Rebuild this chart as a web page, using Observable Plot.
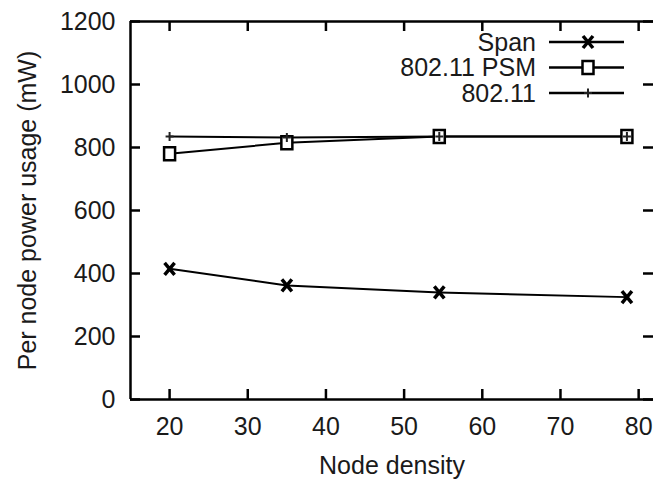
<!DOCTYPE html>
<html>
<head>
<meta charset="utf-8">
<script src="https://cdn.jsdelivr.net/npm/d3@7"></script>
<script src="https://cdn.jsdelivr.net/npm/@observablehq/plot@0.6"></script>
<style>
  html, body { margin: 0; padding: 0; background: #fff; }
  #chart { width: 653px; height: 479px; overflow: hidden; }
</style>
</head>
<body>
<div id="chart"></div>
<script>
// ---- data ----
const nodeDensity = [20, 35, 54.5, 78.5];
const spanPower   = [415, 362, 340, 325];
const psmPower    = [780, 815, 835, 835];
const dot11Power  = [835, 832, 835, 835];
const seriesNames = ["Span", "802.11 PSM", "802.11"];
const xTicks = [20, 30, 40, 50, 60, 70, 80];
const yTicks = [0, 200, 400, 600, 800, 1000, 1200];
const xDomain = [15, 81.9];
const yDomain = [0, 1200];
const xTitle = "Node density";
const yTitle = "Per node power usage (mW)";

// ---- table for Plot ----
const rows = [];
[spanPower, psmPower, dot11Power].forEach((vals, s) => {
  vals.forEach((v, i) => rows.push({series: seriesNames[s], x: nodeDensity[i], y: v}));
});

// ---- custom symbols ----
const symX = {draw(ctx) { const w = 5, h = 6; ctx.moveTo(-w, -h); ctx.lineTo(w, h); ctx.moveTo(w, -h); ctx.lineTo(-w, h); }};
const symBox = {draw(ctx) { const w = 5.5, h = 6.5; ctx.moveTo(-w, -h); ctx.lineTo(w, -h); ctx.lineTo(w, h); ctx.lineTo(-w, h); ctx.closePath(); }};
const symPlus = {draw(ctx) { ctx.moveTo(-4, 0); ctx.lineTo(4, 0); ctx.moveTo(0, -4.5); ctx.lineTo(0, 4.5); }};
const styles = {
  "Span":       {symbol: symX,    stroke: "#000", strokeWidth: 3.5, fill: "none"},
  "802.11 PSM": {symbol: symBox,  stroke: "#000", strokeWidth: 2.5, fill: "#fff"},
  "802.11":     {symbol: symPlus, stroke: "#222", strokeWidth: 2,   fill: "none"}
};

const W = 653, H = 479;
const mL = 130, mT = 21, mB = 80, mR = 0;
const frameW = W - mL - mR, frameH = H - mT - mB;
const tickLen = 10;
const font = "'Liberation Sans', Arial, Helvetica, sans-serif";
const txt = "#1a1a1a";

const marks = [
  // frame (left, bottom, top)
  Plot.ruleX([xDomain[0]], {stroke: "#000", strokeWidth: 2.5}),
  Plot.ruleY(yDomain, {stroke: "#000", strokeWidth: 2.5}),
  // inward ticks
  Plot.ruleY(yTicks, {insetRight: frameW - tickLen, stroke: "#000", strokeWidth: 2.5}),
  Plot.ruleY(yTicks, {insetLeft: frameW - tickLen, stroke: "#000", strokeWidth: 2.5}),
  Plot.ruleX(xTicks, {insetTop: frameH - tickLen, stroke: "#000", strokeWidth: 2.5}),
  Plot.ruleX(xTicks, {insetBottom: frameH - tickLen, stroke: "#000", strokeWidth: 2.5}),
  // tick labels
  Plot.axisY({anchor: "left", ticks: yTicks, tickFormat: d => String(d), tickSize: 0, tickPadding: 15, label: null, fill: txt}),
  Plot.axisX({anchor: "bottom", ticks: xTicks, tickFormat: d => String(d), tickSize: 0, tickPadding: 18, label: null, fill: txt}),
  // titles
  Plot.text([xTitle], {frameAnchor: "bottom", dy: 66, lineAnchor: "middle", textAnchor: "middle", fill: txt}),
  Plot.text([yTitle], {frameAnchor: "left", dx: -103, rotate: -90, textAnchor: "middle", lineAnchor: "middle", fill: txt})
];
for (const name of seriesNames) {
  const data = rows.filter(d => d.series === name);
  marks.push(Plot.line(data, {x: "x", y: "y", stroke: "#000", strokeWidth: 2}));
}
for (const name of seriesNames) {
  const data = rows.filter(d => d.series === name);
  const st = styles[name];
  marks.push(Plot.dot(data, {x: "x", y: "y", symbol: () => st.symbol, r: 5, stroke: st.stroke, strokeWidth: st.strokeWidth, fill: st.fill}));
}

const svg = Plot.plot({
  width: W, height: H,
  marginLeft: mL, marginTop: mT, marginBottom: mB, marginRight: mR,
  x: {domain: xDomain},
  y: {domain: yDomain},
  symbol: {type: "identity"},
  style: {fontFamily: font, fontSize: "25px", background: "#fff", color: "#000", overflow: "hidden"},
  marks
});

// ---- legend (pixel layout, top-right inside frame) ----
const lg = d3.select(svg).append("g");
const legTextRight = 536, legLineX1 = 549, legLineX2 = 624, legSymX = 588, legY0 = 42, legDy = 25.5;
seriesNames.forEach((name, i) => {
  const y = legY0 + i * legDy;
  const st = styles[name];
  lg.append("text").attr("x", legTextRight).attr("y", y).attr("dy", "0.35em")
    .attr("text-anchor", "end").attr("fill", txt).attr("font-size", 25).text(name);
  lg.append("line").attr("x1", legLineX1).attr("x2", legLineX2).attr("y1", y).attr("y2", y)
    .attr("stroke", "#000").attr("stroke-width", 2.5);
  lg.append("path").attr("transform", `translate(${legSymX},${y})`)
    .attr("d", d3.symbol(st.symbol)())
    .attr("stroke", st.stroke).attr("stroke-width", st.strokeWidth).attr("fill", st.fill);
});

document.getElementById("chart").appendChild(svg);
</script>
</body>
</html>
